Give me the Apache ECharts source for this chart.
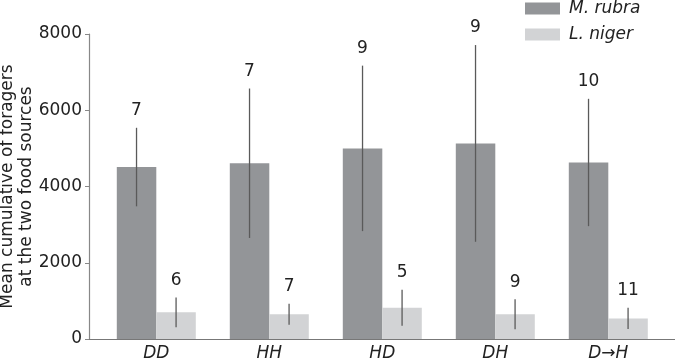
<!DOCTYPE html>
<html>
<head>
<meta charset="utf-8">
<script src="https://cdn.jsdelivr.net/npm/echarts@6/dist/echarts.min.js"></script>
<style>
  html, body { margin: 0; padding: 0; background: #fff; }
  #chart { width: 675px; height: 358px; }
</style>
</head>
<body>
<div id="chart"></div>
<script>
// values
var categories = ["DD", "HH", "HD", "DH", "D\u2192H"];
var rubraMean = [4510, 4610, 5000, 5130, 4630];
var rubraErr = [1030, 1960, 2170, 2580, 1670];
var nigerMean = [700, 650, 820, 650, 540];
var nigerErr = [390, 275, 470, 395, 280];
var rubraN = [7, 7, 9, 9, 10];
var nigerN = [6, 7, 5, 9, 11];
var yTicks = [0, 2000, 4000, 6000, 8000];

var darkColor = "#939598";
var lightColor = "#d2d3d5";
var textColor = "#222";
var font = "DejaVu Sans";

var chartDom = document.getElementById("chart");
var myChart = echarts.init(chartDom);
var option;

function errorItem(means, errs, counts, side) {
  return function (params, api) {
    var i = api.value(0);
    var band = api.size([1, 0])[0];
    var dx = side * band * 0.175;
    var top = api.coord([i, means[i] + errs[i]]);
    var bot = api.coord([i, means[i] - errs[i]]);
    var x = top[0] + dx;
    return {
      type: "group",
      children: [
        {
          type: "line",
          shape: { x1: x, y1: top[1], x2: x, y2: bot[1] },
          style: { stroke: "#5a5a5a", lineWidth: 1.3 },
        },
        {
          type: "text",
          style: {
            x: x,
            y: top[1] - 17,
            text: String(counts[i]),
            align: "center",
            verticalAlign: "middle",
            font: "17px '" + font + "'",
            fill: textColor,
          },
        },
      ],
    };
  };
}

option = {
  animation: false,
  legend: {
    orient: "vertical",
    left: 525,
    top: 0,
    padding: 0,
    itemWidth: 35,
    itemHeight: 12,
    itemGap: 9,
    icon: "rect",
    data: ["M. rubra", "L. niger"],
    textStyle: {
      fontFamily: font,
      fontStyle: "italic",
      fontSize: 17,
      lineHeight: 13,
      color: textColor,
      padding: [0, 0, 0, 4],
    },
  },
  grid: [
    { left: 89, right: 0, top: 34, bottom: 19, containLabel: false, outerBoundsMode: "none" },
    { left: 99.8, width: 565, top: 34, bottom: 19, containLabel: false, outerBoundsMode: "none" },
  ],
  xAxis: [
    {
      gridIndex: 0,
      type: "value",
      min: 0,
      max: 1,
      axisLine: { show: true, lineStyle: { color: "#777", width: 1.2 } },
      axisTick: { show: false },
      axisLabel: { show: false },
      splitLine: { show: false },
    },
    {
      gridIndex: 1,
      type: "category",
      data: categories,
      axisLine: { show: false },
      axisTick: { show: false },
      axisLabel: {
        margin: 6,
        fontFamily: font,
        fontStyle: "italic",
        fontSize: 17,
        color: textColor,
      },
    },
  ],
  yAxis: [
    {
      gridIndex: 0,
      type: "value",
      min: yTicks[0],
      max: yTicks[yTicks.length - 1],
      interval: 2000,
      name: "Mean cumulative of foragers\nat the two food sources",
      nameLocation: "middle",
      nameGap: 53,
      nameMoveOverlap: false,
      nameTextStyle: {
        fontFamily: font,
        fontSize: 17,
        lineHeight: 19,
        color: textColor,
      },
      axisLine: { show: true, lineStyle: { color: "#888", width: 1.2 } },
      axisTick: { show: true, length: 4, lineStyle: { color: "#888" } },
      axisLabel: {
        margin: 7,
        fontFamily: font,
        fontSize: 17,
        color: textColor,
        formatter: function (v) { return String(v); },
      },
      splitLine: { show: false },
    },
    {
      gridIndex: 1,
      type: "value",
      min: yTicks[0],
      max: yTicks[yTicks.length - 1],
      show: false,
    },
  ],
  series: [
    {
      name: "M. rubra",
      type: "bar",
      xAxisIndex: 1,
      yAxisIndex: 1,
      data: rubraMean,
      barWidth: 39.5,
      barGap: "0%",
      itemStyle: { color: darkColor },
    },
    {
      name: "L. niger",
      type: "bar",
      xAxisIndex: 1,
      yAxisIndex: 1,
      data: nigerMean,
      barWidth: 39.5,
      barGap: "0%",
      itemStyle: { color: lightColor },
    },
    {
      type: "custom",
      xAxisIndex: 1,
      yAxisIndex: 1,
      data: categories.map(function (c, i) { return [i]; }),
      renderItem: errorItem(rubraMean, rubraErr, rubraN, -1),
      z: 5,
    },
    {
      type: "custom",
      xAxisIndex: 1,
      yAxisIndex: 1,
      data: categories.map(function (c, i) { return [i]; }),
      renderItem: errorItem(nigerMean, nigerErr, nigerN, 1),
      z: 5,
    },
  ],
};

option && myChart.setOption(option);
</script>
</body>
</html>
